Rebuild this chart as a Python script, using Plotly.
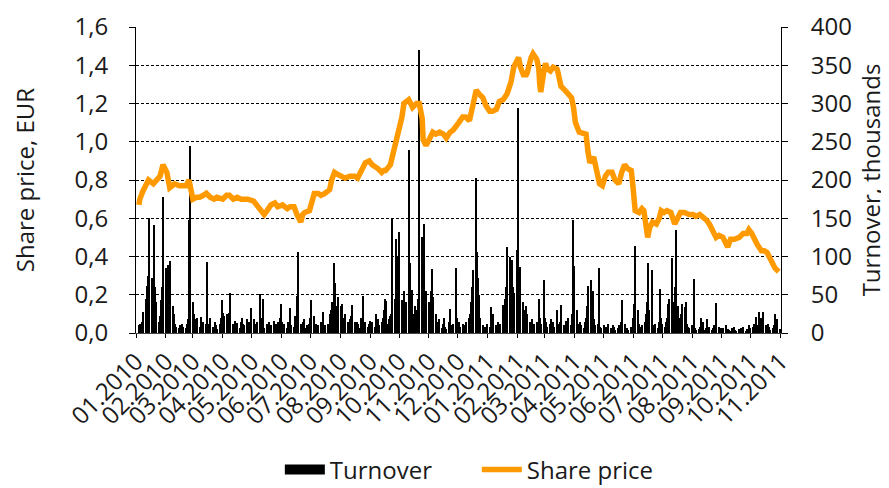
import pandas as pd
import plotly.graph_objects as go

# ---------------- data ----------------
price_dates = [
    "2010-01-04", "2010-01-05", "2010-01-08", "2010-01-14", "2010-01-19", "2010-01-22", "2010-01-26", "2010-01-29",
    "2010-02-02", "2010-02-05", "2010-02-10", "2010-02-15", "2010-02-22", "2010-02-25",
    "2010-03-01", "2010-03-05", "2010-03-08", "2010-03-12", "2010-03-15", "2010-03-19", "2010-03-23", "2010-03-26",
    "2010-04-01", "2010-04-05", "2010-04-08", "2010-04-12", "2010-04-16", "2010-04-20", "2010-04-22", "2010-04-27",
    "2010-05-03", "2010-05-07", "2010-05-11", "2010-05-14", "2010-05-17", "2010-05-21", "2010-05-25", "2010-05-28",
    "2010-06-02", "2010-06-07", "2010-06-10", "2010-06-14", "2010-06-17", "2010-06-21", "2010-06-23", "2010-06-25", "2010-06-30",
    "2010-07-02", "2010-07-05", "2010-07-09", "2010-07-12", "2010-07-16", "2010-07-21", "2010-07-23", "2010-07-26", "2010-07-29",
    "2010-08-02", "2010-08-06", "2010-08-11", "2010-08-16", "2010-08-19", "2010-08-23", "2010-08-27", "2010-08-31",
    "2010-09-03", "2010-09-09", "2010-09-13", "2010-09-15", "2010-09-17", "2010-09-22", "2010-09-24", "2010-09-28",
    "2010-10-01", "2010-10-04", "2010-10-06", "2010-10-11", "2010-10-13", "2010-10-15", "2010-10-19", "2010-10-22",
    "2010-10-25", "2010-10-26", "2010-10-29",
    "2010-11-02", "2010-11-05", "2010-11-08", "2010-11-12", "2010-11-16", "2010-11-19", "2010-11-23", "2010-11-26",
    "2010-12-02", "2010-12-06", "2010-12-09", "2010-12-13", "2010-12-17", "2010-12-20", "2010-12-23", "2010-12-27", "2010-12-30",
    "2011-01-03", "2011-01-06", "2011-01-10", "2011-01-13", "2011-01-17", "2011-01-21", "2011-01-25", "2011-01-28", "2011-01-31",
    "2011-02-02", "2011-02-04", "2011-02-07", "2011-02-10", "2011-02-11", "2011-02-15", "2011-02-17", "2011-02-21",
    "2011-02-23", "2011-02-24", "2011-02-25", "2011-02-28",
    "2011-03-02", "2011-03-04", "2011-03-07", "2011-03-10", "2011-03-14", "2011-03-15", "2011-03-18", "2011-03-22",
    "2011-03-25", "2011-03-29", "2011-03-31",
    "2011-04-02", "2011-04-06", "2011-04-10", "2011-04-13", "2011-04-15", "2011-04-17", "2011-04-21", "2011-04-24",
    "2011-04-27", "2011-04-30",
    "2011-05-03", "2011-05-06", "2011-05-10", "2011-05-13", "2011-05-17", "2011-05-20", "2011-05-23", "2011-05-26", "2011-05-30",
    "2011-06-01", "2011-06-03", "2011-06-07", "2011-06-10", "2011-06-12", "2011-06-16", "2011-06-18", "2011-06-21",
    "2011-06-25", "2011-06-28", "2011-06-30",
    "2011-07-03", "2011-07-06", "2011-07-10", "2011-07-14", "2011-07-17", "2011-07-20", "2011-07-24", "2011-07-29",
    "2011-08-02", "2011-08-05", "2011-08-09", "2011-08-12", "2011-08-16", "2011-08-19", "2011-08-23", "2011-08-26", "2011-08-29",
    "2011-09-02", "2011-09-05", "2011-09-07", "2011-09-10", "2011-09-14", "2011-09-19", "2011-09-23", "2011-09-27", "2011-09-29",
    "2011-10-02", "2011-10-05", "2011-10-08", "2011-10-12", "2011-10-15", "2011-10-18", "2011-10-21", "2011-10-23",
    "2011-10-26", "2011-10-30",
]

share_price = [
    0.67, 0.70, 0.74, 0.80, 0.78, 0.80, 0.82, 0.88,
    0.84, 0.76, 0.78, 0.77, 0.77, 0.80,
    0.70, 0.71, 0.71, 0.72, 0.73, 0.71, 0.70, 0.71,
    0.70, 0.72, 0.72, 0.70, 0.71, 0.70, 0.70, 0.70,
    0.69, 0.66, 0.63, 0.62, 0.64, 0.67, 0.68, 0.66,
    0.67, 0.65, 0.66, 0.66, 0.62, 0.58, 0.62, 0.63, 0.64,
    0.69, 0.73, 0.73, 0.72, 0.73, 0.75, 0.80, 0.84, 0.83,
    0.82, 0.81, 0.82, 0.82, 0.81, 0.85, 0.89, 0.90,
    0.88, 0.86, 0.84, 0.85, 0.85, 0.88, 0.92, 1.00,
    1.08, 1.13, 1.20, 1.22, 1.20, 1.18, 1.20, 1.20, 1.12, 1.01, 0.98,
    1.03, 1.05, 1.04, 1.05, 1.04, 1.02, 1.05, 1.06,
    1.10, 1.13, 1.13, 1.11, 1.20, 1.27, 1.25, 1.23, 1.19,
    1.16, 1.16, 1.17, 1.21, 1.22, 1.25, 1.31, 1.39, 1.43,
    1.44, 1.39, 1.35, 1.35, 1.36, 1.44, 1.46, 1.43, 1.38, 1.30, 1.26, 1.36,
    1.41, 1.38, 1.37, 1.39, 1.38, 1.36, 1.29, 1.27, 1.25, 1.23, 1.18,
    1.10, 1.05, 1.04, 1.04, 0.95, 0.89, 0.92, 0.85, 0.78, 0.77,
    0.82, 0.84, 0.84, 0.80, 0.78, 0.84, 0.88, 0.86, 0.85,
    0.75, 0.64, 0.63, 0.65, 0.64, 0.50, 0.55, 0.58, 0.57, 0.60, 0.64,
    0.63, 0.64, 0.63, 0.57, 0.60, 0.63, 0.63, 0.62,
    0.62, 0.61, 0.62, 0.61, 0.59, 0.57, 0.53, 0.50, 0.51,
    0.50, 0.47, 0.45, 0.49, 0.49, 0.50, 0.52, 0.52, 0.54,
    0.52, 0.48, 0.46, 0.43, 0.43, 0.42, 0.39, 0.37, 0.34, 0.32,
]

# daily turnover, thousands (trading days)
turnover_2010 = [
    10, 12, 8, 15, 28, 45, 62, 74, 70, 150, 72, 65, 141, 60, 40, 15, 22, 43, 60, 178,          # Jan
    85, 78, 89, 70, 94, 35, 25, 20, 12, 8, 6, 10, 5, 12, 8, 6, 12, 18, 148, 245,               # Feb
    40, 25, 18, 12, 20, 8, 21, 10, 6, 15, 12, 93, 8, 12, 20, 8, 6, 14, 10, 5, 12, 20, 43,      # Mar
    26, 22, 18, 25, 22, 26, 52, 12, 8, 16, 10, 13, 6, 15, 20, 12, 10, 18, 12, 15, 8, 33,       # Apr
    10, 18, 8, 12, 14, 51, 20, 15, 45, 6, 12, 8, 14, 5, 10, 16, 9, 12, 7, 14, 20,              # May
    38, 15, 8, 12, 6, 14, 10, 33, 10, 8, 22, 14, 48, 106, 12, 8, 14, 18, 6, 10, 8, 12,         # Jun
    20, 43, 22, 8, 12, 6, 10, 14, 8, 27, 6, 10, 12, 8, 25, 30, 40, 91, 65, 35, 25, 47,         # Jul
    35, 38, 20, 12, 25, 15, 10, 18, 22, 37, 14, 8, 15, 12, 6, 20, 18, 48, 10, 14, 8, 12,       # Aug
    16, 10, 14, 8, 25, 12, 18, 10, 15, 20, 30, 44, 42, 12, 18, 22, 25, 150, 45, 123, 100, 55,  # Sep
    132, 43, 30, 55, 35, 40, 239, 91, 40, 56, 25, 35, 20, 30, 45, 370, 126, 70, 142, 47, 55,   # Oct
    40, 30, 55, 84, 47, 25, 15, 10, 8, 18, 6, 12, 20, 8, 5, 14, 32, 10, 6, 12, 85, 20,         # Nov
    10, 15, 8, 12, 6, 10, 14, 8, 20, 25, 40, 60, 82, 203, 106, 72, 50, 20, 10, 6, 8, 5, 12,    # Dec
]
turnover_2011 = [
    8, 34, 12, 15, 25, 10, 6, 14, 8, 12, 36, 20, 45, 60, 112, 100, 78, 95, 60, 52, 108,        # Jan
    294, 65, 40, 86, 40, 30, 20, 35, 25, 15, 10, 18, 8, 12, 14, 10, 45, 20, 12, 69,            # Feb
    20, 10, 14, 8, 12, 18, 10, 15, 8, 30, 12, 10, 14, 36, 10, 8, 16, 12, 20, 10, 14, 25, 148,  # Mar
    87, 30, 12, 8, 15, 10, 6, 14, 20, 35, 62, 69, 40, 55, 18, 10, 12, 85, 30, 8, 6,            # Apr
    10, 6, 8, 4, 12, 6, 5, 10, 8, 4, 6, 10, 5, 14, 43, 12, 8, 5, 6, 4, 8, 6,                   # May
    20, 38, 114, 30, 12, 8, 6, 10, 14, 25, 40, 91, 30, 82, 20, 10, 8, 12, 6, 14, 57, 20,       # Jun
    12, 8, 15, 20, 38, 45, 98, 40, 30, 60, 135, 35, 20, 15, 25, 38, 34, 40, 12, 8, 6,          # Jul
    10, 5, 70, 6, 4, 5, 8, 19, 6, 15, 4, 6, 18, 5, 8, 4, 6, 10, 5, 39, 8, 4, 6,                # Aug
    4, 6, 10, 3, 5, 4, 2, 6, 3, 8, 4, 2, 5, 3, 6, 4, 8, 3, 5, 4, 10, 6,                        # Sep
    8, 12, 6, 21, 10, 27, 15, 20, 8, 28, 10, 6, 12, 8, 4, 6, 10, 25, 8, 18, 5,                 # Oct
]

month_labels = [
    "01.2010", "02.2010", "03.2010", "04.2010", "05.2010", "06.2010", "07.2010", "08.2010",
    "09.2010", "10.2010", "11.2010", "12.2010", "01.2011", "02.2011", "03.2011", "04.2011",
    "05.2011", "06.2011", "07.2011", "08.2011", "09.2011", "10.2011", "11.2011",
]
price_ticks = [0.0, 0.2, 0.4, 0.6, 0.8, 1.0, 1.2, 1.4, 1.6]
price_tick_labels = ["0,0", "0,2", "0,4", "0,6", "0,8", "1,0", "1,2", "1,4", "1,6"]
turnover_ticks = [0, 50, 100, 150, 200, 250, 300, 350, 400]

# ---------------- build ----------------
days_2010 = pd.bdate_range("2010-01-04", periods=len(turnover_2010))
days_2011 = pd.bdate_range("2011-01-03", periods=len(turnover_2011))
turnover_dates = list(days_2010) + list(days_2011)
turnover = turnover_2010 + turnover_2011
month_ticks = [d.strftime("%Y-%m-%d") for d in pd.date_range("2010-01-01", periods=len(month_labels), freq="MS")]

FONT = "Open Sans"
TXT = "#1a1a1a"
FS = 24
fig = go.Figure()
fig.add_trace(go.Bar(
    x=turnover_dates, y=turnover, name="Turnover", showlegend=False,
    marker=dict(color="black", line=dict(width=0)),
    width=1.15 * 86400000, yaxis="y",
))
# legend entry for the bars drawn as a wide black block (no data marks)
fig.add_trace(go.Scatter(
    x=[None], y=[None], name="Turnover", mode="lines",
    line=dict(color="black", width=14), yaxis="y", hoverinfo="skip",
))
fig.add_trace(go.Scatter(
    x=price_dates, y=share_price, name="Share price", mode="lines",
    line=dict(color="#FF9900", width=5.5), yaxis="y2",
))

# the page body has an 8px margin, so the figure is sized 8px smaller
fig.update_layout(
    width=881, height=480,
    margin=dict(l=128, r=108, t=19, b=155, autoexpand=False),
    paper_bgcolor="white", plot_bgcolor="white",
    font=dict(family=FONT, size=FS, color=TXT),
    bargap=0,
    showlegend=True,
    legend=dict(orientation="h", xref="paper", yref="paper",
                x=0.223, xanchor="left", y=-0.447, yanchor="middle",
                font=dict(size=FS, color=TXT), itemwidth=40, traceorder="normal",
                entrywidth=142, entrywidthmode="pixels",
                tracegroupgap=0, bgcolor="rgba(0,0,0,0)"),
    xaxis=dict(
        type="date", range=["2010-01-01", "2011-11-01 08:00"], automargin=False,
        tickvals=month_ticks, ticktext=month_labels, tickangle=-45,
        ticks="outside", ticklen=4, tickcolor="black",
        showline=True, linecolor="#444444", linewidth=1,
        showgrid=False, zeroline=False, tickfont=dict(size=FS, color=TXT),
    ),
    yaxis=dict(
        side="right", range=[0, 400], tickvals=turnover_ticks, automargin=False,
        ticks="outside", ticklen=6, tickcolor="black", ticklabelstandoff=18,
        showline=True, linecolor="black", linewidth=1,
        showgrid=True, gridcolor="#000000", gridwidth=1, griddash="3px,2px",
        zeroline=False,
        title=dict(text="Turnover, thousands", font=dict(size=FS, color=TXT), standoff=12),
    ),
    yaxis2=dict(
        side="left", overlaying="y", range=[0, 1.6], automargin=False,
        tickvals=price_ticks, ticktext=price_tick_labels,
        ticks="outside", ticklen=6, tickcolor="black", ticklabelstandoff=16,
        showline=True, linecolor="black", linewidth=1,
        showgrid=False, zeroline=False,
        title=dict(text="Share price, EUR", font=dict(size=FS, color=TXT), standoff=38),
    ),
)

fig.write_html("out.html")
